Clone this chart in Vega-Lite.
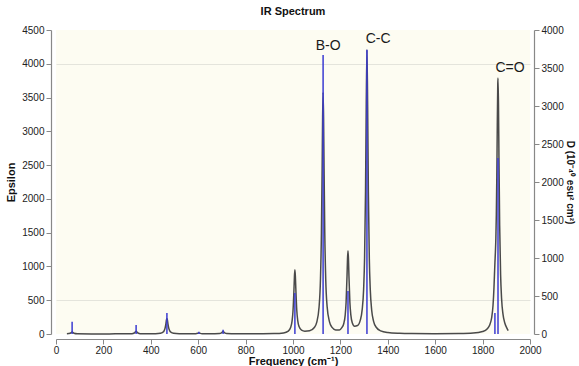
{
  "$schema": "https://vega.github.io/schema/vega-lite/v6.json",
  "autosize": {"type": "none"},
  "padding": {"left": 56, "top": 30, "right": 49, "bottom": 32},
  "width": 474,
  "height": 304,
  "background": "white",
  "title": {"text": "IR Spectrum", "font": "Liberation Sans", "fontSize": 11, "fontWeight": "bold", "color": "#111", "offset": 8},
  "config": {
    "view": {"fill": "#fdfcf2", "stroke": null},
    "axis": {"labelFont": "Liberation Sans", "labelFontSize": 10, "labelColor": "#222", "titleFont": "Liberation Sans", "titleFontSize": 11, "titleFontWeight": "bold", "titleColor": "#111", "domainColor": "#888", "tickColor": "#888", "domainWidth": 1.2, "labelOverlap": false}
  },
  "datasets": {
    "curve": [
      {"f":46,"eps":3},{"f":60,"eps":11},{"f":64,"eps":21},{"f":68,"eps":31},{"f":72,"eps":21},{"f":76,"eps":11},{"f":90,"eps":3},{"f":150,"eps":1},{"f":200,"eps":1},{"f":250,"eps":2},{"f":300,"eps":2},{"f":320,"eps":5},{"f":330,"eps":15},{"f":334,"eps":28},{"f":338,"eps":41},{"f":342,"eps":28},{"f":346,"eps":15},{"f":356,"eps":5},{"f":380,"eps":2},{"f":420,"eps":4},{"f":440,"eps":11},{"f":450,"eps":24},{"f":456,"eps":47},{"f":460,"eps":84},{"f":464,"eps":159},{"f":466,"eps":207},{"f":468,"eps":231},{"f":470,"eps":207},{"f":472,"eps":159},{"f":476,"eps":84},{"f":480,"eps":47},{"f":486,"eps":24},{"f":496,"eps":11},{"f":520,"eps":4},{"f":570,"eps":2},{"f":590,"eps":4},{"f":598,"eps":10},{"f":603,"eps":16},{"f":608,"eps":10},{"f":616,"eps":4},{"f":650,"eps":2},{"f":690,"eps":6},{"f":698,"eps":16},{"f":705,"eps":36},{"f":712,"eps":16},{"f":720,"eps":6},{"f":760,"eps":2},{"f":850,"eps":3},{"f":920,"eps":6},{"f":960,"eps":16},{"f":980,"eps":43},{"f":990,"eps":96},{"f":996,"eps":190},{"f":1000,"eps":340},{"f":1004,"eps":652},{"f":1006,"eps":846},{"f":1008,"eps":950},{"f":1010,"eps":856},{"f":1012,"eps":662},{"f":1016,"eps":348},{"f":1020,"eps":199},{"f":1026,"eps":106},{"f":1036,"eps":56},{"f":1050,"eps":41},{"f":1070,"eps":48},{"f":1090,"eps":97},{"f":1100,"eps":172},{"f":1110,"eps":400},{"f":1116,"eps":823},{"f":1120,"eps":1515},{"f":1123,"eps":2473},{"f":1125,"eps":3215},{"f":1127,"eps":3576},{"f":1129,"eps":3215},{"f":1131,"eps":2473},{"f":1134,"eps":1515},{"f":1138,"eps":823},{"f":1144,"eps":405},{"f":1154,"eps":180},{"f":1164,"eps":101},{"f":1180,"eps":61},{"f":1196,"eps":60},{"f":1206,"eps":95},{"f":1214,"eps":152},{"f":1220,"eps":273},{"f":1224,"eps":465},{"f":1228,"eps":864},{"f":1230,"eps":1113},{"f":1232,"eps":1234},{"f":1234,"eps":1115},{"f":1236,"eps":866},{"f":1240,"eps":471},{"f":1244,"eps":283},{"f":1250,"eps":168},{"f":1260,"eps":116},{"f":1272,"eps":125},{"f":1284,"eps":205},{"f":1292,"eps":364},{"f":1298,"eps":663},{"f":1302,"eps":1120},{"f":1306,"eps":2108},{"f":1309,"eps":3367},{"f":1312,"eps":4208},{"f":1315,"eps":3367},{"f":1318,"eps":2108},{"f":1322,"eps":1118},{"f":1326,"eps":661},{"f":1332,"eps":352},{"f":1340,"eps":188},{"f":1352,"eps":96},{"f":1370,"eps":47},{"f":1400,"eps":22},{"f":1450,"eps":10},{"f":1500,"eps":6},{"f":1600,"eps":4},{"f":1700,"eps":7},{"f":1760,"eps":14},{"f":1800,"eps":37},{"f":1820,"eps":79},{"f":1830,"eps":134},{"f":1838,"eps":237},{"f":1844,"eps":425},{"f":1848,"eps":689},{"f":1850,"eps":873},{"f":1852,"eps":1055},{"f":1854,"eps":1213},{"f":1856,"eps":1422},{"f":1858,"eps":1776},{"f":1860,"eps":2340},{"f":1862,"eps":3082},{"f":1864,"eps":3699},{"f":1865,"eps":3790},{"f":1867,"eps":3403},{"f":1869,"eps":2618},{"f":1872,"eps":1609},{"f":1876,"eps":876},{"f":1880,"eps":530},{"f":1886,"eps":293},{"f":1894,"eps":160},{"f":1902,"eps":90},{"f":1908,"eps":50}
    ],
    "sticks": [
      {"f":68,"D":160},{"f":338,"D":120},{"f":468,"D":275},{"f":603,"D":30},{"f":705,"D":55},{"f":1008,"D":540},{"f":1127,"D":3670},{"f":1232,"D":566},{"f":1312,"D":3740},{"f":1852,"D":276},{"f":1865,"D":2316}
    ],
    "labels": [
      {"label":"B-O","f":1148,"eps":4200},{"label":"C-C","f":1359,"eps":4305},{"label":"C=O","f":1916,"eps":3876}
    ]
  },
  "layer": [
    {
      "layer": [
        {
          "data": {"name": "curve"},
          "mark": {"type": "line", "color": "#4a4a4a", "strokeWidth": 1.5, "interpolate": "monotone"},
          "encoding": {
            "x": {"field": "f", "type": "quantitative", "scale": {"domain": [0, 2000], "nice": false},
              "axis": {"title": "Frequency (cm⁻¹)", "values": [0,50,100,150,200,250,300,350,400,450,500,550,600,650,700,750,800,850,900,950,1000,1050,1100,1150,1200,1250,1300,1350,1400,1450,1500,1550,1600,1650,1700,1750,1800,1850,1900,1950,2000],
                "labelExpr": "datum.value % 200 === 0 ? datum.label : ''", "labelFlush": false, "grid": false, "offset": 5, "labelPadding": 1, "titlePadding": 0,
                "tickSize": {"condition": {"test": "datum.value % 200 === 0", "value": 5}, "value": 3}, "format": "d"}},
            "y": {"field": "eps", "type": "quantitative", "scale": {"domain": [0, 4500], "nice": false},
              "axis": {"title": "Epsilon", "orient": "left", "values": [0,500,1000,1500,2000,2500,3000,3500,4000,4500], "offset": 5, "tickSize": 5, "labelPadding": 2, "titlePadding": 5, "format": "d", "labelOverlap": false,
                "grid": true, "gridColor": "#e4e4dc", "gridOpacity": {"condition": {"test": "datum.value === 500 || datum.value === 4000", "value": 1}, "value": 0}}}
          }
        },
        {
          "data": {"name": "labels"},
          "mark": {"type": "text", "font": "Liberation Sans", "fontSize": 14, "color": "#1a1a1a", "align": "center", "baseline": "alphabetic"},
          "encoding": {
            "x": {"field": "f", "type": "quantitative"},
            "y": {"field": "eps", "type": "quantitative",
              "axis": {"title": "Epsilon", "orient": "left", "values": [0,500,1000,1500,2000,2500,3000,3500,4000,4500], "offset": 5, "tickSize": 5, "labelPadding": 2, "titlePadding": 5, "format": "d", "labelOverlap": false,
                "grid": true, "gridColor": "#e4e4dc", "gridOpacity": {"condition": {"test": "datum.value === 500 || datum.value === 4000", "value": 1}, "value": 0}}},
            "text": {"field": "label"}
          }
        }
      ]
    },
    {
      "data": {"name": "sticks"},
      "mark": {"type": "rule", "color": "#3b3bd2", "strokeWidth": 1.5},
      "encoding": {
        "x": {"field": "f", "type": "quantitative"},
        "y": {"field": "D", "type": "quantitative", "scale": {"domain": [0, 4000], "nice": false},
          "axis": {"title": "D (10⁻⁴⁰ esu² cm²)", "orient": "right", "titleAngle": 90, "titleFontSize": 10, "values": [0,500,1000,1500,2000,2500,3000,3500,4000], "offset": 4, "tickSize": 5, "labelPadding": 2, "titlePadding": 1, "format": "d", "grid": false, "labelOverlap": false}},
        "y2": {"datum": 0}
      }
    }
  ],
  "resolve": {"scale": {"y": "independent"}}
}
